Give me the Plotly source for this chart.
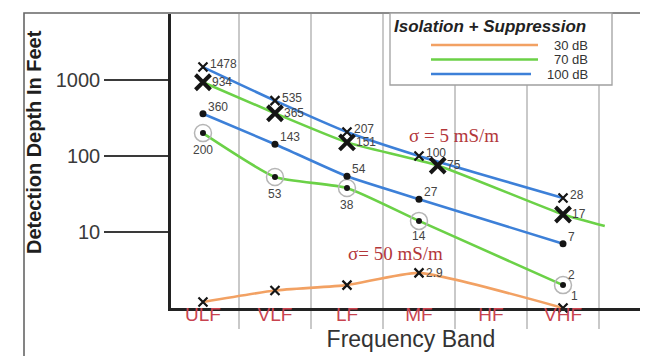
import math
import plotly.graph_objects as go

# ---------------- data ----------------
bands = ["ULF", "VLF", "LF", "MF", "HF", "VHF"]
band_pos = [0, 1, 2, 3, 4, 5]
band_edges = [0.5, 1.5, 2.5, 3.5, 4.5, 5.5]

# 30 dB isolation + suppression
pos_30 = [0, 1, 2, 3, 5]
val_30 = [1.2, 1.7, 2.0, 2.9, 1]
lbl_30 = ["", "", "", "2.9", "1"]

# 100 dB, sigma = 5 mS/m
pos_100_s5 = [0, 1, 2, 3, 5]
val_100_s5 = [1478, 535, 207, 100, 28]

# 70 dB, sigma = 5 mS/m (line continues past VHF)
pos_70_s5 = [0, 1, 2, 3.26, 5]
val_70_s5 = [934, 365, 151, 75, 17]
pos_70_s5_tail = [5.58]
val_70_s5_tail = [12]

# 100 dB, sigma = 50 mS/m
pos_100_s50 = [0, 1, 2, 3, 5]
val_100_s50 = [360, 143, 54, 27, 7]

# 70 dB, sigma = 50 mS/m
pos_70_s50 = [0, 1, 2, 3, 5]
val_70_s50 = [200, 53, 38, 14, 2]

y_ticks = [10, 100, 1000]
legend_names = ["30 dB", "70 dB", "100 dB"]

# ---------------- style ----------------
ORANGE = "#f2a163"
GREEN = "#6bd147"
BLUE = "#3d80d8"
INK = "#151515"
LBL = "#444444"
RED = "#c8434f"
SIG = "#b3373a"
GRID = "#c9c9c9"
SANS = "Liberation Sans, Arial, sans-serif"
SERIF = "Liberation Serif, Times New Roman, serif"

# plot area geometry in pixels (for paper-coordinate decorations)
L, R, T, B = 163, 643, 6, 300
def px(x):
    return (x - L) / (R - L)
def py(y):
    return (B - y) / (B - T)

lbl_font = dict(family=SANS, size=12, color=LBL)
line_kw = dict(width=2.6, shape="spline", smoothing=0.5)

fig = go.Figure()

# ---- lines ----
fig.add_trace(go.Scatter(x=pos_30, y=val_30, mode="lines",
                         line=dict(color=ORANGE, **line_kw), hoverinfo="skip"))
fig.add_trace(go.Scatter(x=pos_100_s5, y=val_100_s5, mode="lines",
                         line=dict(color=BLUE, **line_kw), hoverinfo="skip"))
fig.add_trace(go.Scatter(x=pos_70_s5 + pos_70_s5_tail, y=val_70_s5 + val_70_s5_tail,
                         mode="lines", line=dict(color=GREEN, **line_kw), hoverinfo="skip"))
fig.add_trace(go.Scatter(x=pos_100_s50, y=val_100_s50, mode="lines",
                         line=dict(color=BLUE, **line_kw), hoverinfo="skip"))
fig.add_trace(go.Scatter(x=pos_70_s50, y=val_70_s50, mode="lines",
                         line=dict(color=GREEN, **line_kw), hoverinfo="skip"))

# ---- markers ----
fig.add_trace(go.Scatter(
    x=pos_70_s50, y=val_70_s50, mode="markers",
    marker=dict(symbol="circle-open", size=17, color="#b5b5b5", line=dict(width=1.5, color="#b5b5b5")),
    cliponaxis=False))
fig.add_trace(go.Scatter(
    x=pos_70_s50, y=val_70_s50, mode="markers",
    marker=dict(symbol="circle", size=6, color=INK), cliponaxis=False))
fig.add_trace(go.Scatter(
    x=pos_100_s50, y=val_100_s50, mode="markers",
    marker=dict(symbol="circle", size=7, color=INK), cliponaxis=False))
small_x = dict(symbol="x-thin", size=9, color=INK, line=dict(width=2.2, color=INK))
fig.add_trace(go.Scatter(x=pos_100_s5, y=val_100_s5, mode="markers",
                         marker=small_x, cliponaxis=False))
fig.add_trace(go.Scatter(
    x=pos_70_s5, y=val_70_s5, mode="markers",
    marker=dict(symbol="x-thin", size=15, color=INK, line=dict(width=4, color=INK)),
    cliponaxis=False))
fig.add_trace(go.Scatter(x=pos_30, y=val_30, mode="markers",
                         marker=small_x, cliponaxis=False))

# ---- data labels (annotations anchored at data coordinates) ----
annotations = []
def add_labels(xs, vals, texts, xanchor, yanchor, xshift, yshift):
    for i in range(len(xs)):
        if texts[i] == "":
            continue
        annotations.append(dict(
            xref="x", yref="y", x=xs[i], y=math.log10(vals[i]), text=texts[i],
            showarrow=False, font=lbl_font,
            xanchor=xanchor[i] if isinstance(xanchor, list) else xanchor,
            yanchor=yanchor[i] if isinstance(yanchor, list) else yanchor,
            xshift=xshift[i] if isinstance(xshift, list) else xshift,
            yshift=yshift[i] if isinstance(yshift, list) else yshift))

add_labels(pos_100_s5, val_100_s5, [str(v) for v in val_100_s5], "left", "middle", 5, 3)
add_labels(pos_70_s5, val_70_s5, [str(v) for v in val_70_s5], "left", "middle", 7, 0)
add_labels(pos_100_s50, val_100_s50, [str(v) for v in val_100_s50], "left", "middle", 3, 7)
add_labels(pos_70_s50, val_70_s50, [str(v) for v in val_70_s50],
           ["center"] * 4 + ["left"], ["top"] * 4 + ["middle"],
           [0, 0, 0, 0, 3], [-8, -8, -8, -6, 10])
add_labels(pos_30, val_30, lbl_30, "left", "middle", [5, 5, 5, 5, 6], [4, 4, 4, 0, 12])

# ---------------- layout ----------------
shapes = []
# outer frame
shapes.append(dict(type="rect", xref="paper", yref="paper",
                   x0=px(16), x1=px(643), y0=py(353), y1=py(5),
                   line=dict(color="#666666", width=1.6), fillcolor="rgba(0,0,0,0)", layer="above"))
# legend box
shapes.append(dict(type="rect", xref="paper", yref="paper",
                   x0=px(382), x1=px(604), y0=py(77), y1=py(5),
                   line=dict(color="#a0a0a0", width=1.3), fillcolor="white", layer="above"))
leg_colors = [ORANGE, GREEN, BLUE]
leg_y = [37, 51.5, 66]
leg_x1 = [530, 530, 523]
for name, c, yy, x1 in zip(legend_names, leg_colors, leg_y, leg_x1):
    shapes.append(dict(type="line", xref="paper", yref="paper",
                       x0=px(423), x1=px(x1), y0=py(yy), y1=py(yy),
                       line=dict(color=c, width=2.6), layer="above"))
    annotations.append(dict(xref="paper", yref="paper", x=px(582), y=py(yy),
                            xanchor="right", yanchor="middle", showarrow=False,
                            text=name, font=dict(family=SANS, size=13, color="#333333")))
annotations.append(dict(xref="paper", yref="paper", x=px(384), y=py(18),
                        xanchor="left", yanchor="middle", showarrow=False,
                        text="<b><i>Isolation + Suppression</i></b>",
                        font=dict(family=SANS, size=17, color="#222222")))
# sigma notes
annotations.append(dict(xref="paper", yref="paper", x=px(446), y=py(127),
                        xanchor="center", yanchor="middle", showarrow=False,
                        text="σ = 5 mS/m", font=dict(family=SERIF, size=19, color=SIG)))
annotations.append(dict(xref="paper", yref="paper", x=px(387), y=py(245),
                        xanchor="center", yanchor="middle", showarrow=False,
                        text="σ= 50 mS/m", font=dict(family=SERIF, size=19, color=SIG)))
# y-axis title
annotations.append(dict(xref="paper", yref="paper", x=px(26), y=py(134),
                        xanchor="center", yanchor="middle", showarrow=False, textangle=-90,
                        text="<b>Detection Depth In Feet</b>",
                        font=dict(family=SANS, size=20, color="#1e1e1e")))

fig.update_layout(
    width=648, height=356,
    margin=dict(l=L, r=648 - R, t=T, b=356 - B),
    paper_bgcolor="white", plot_bgcolor="white",
    showlegend=False,
    shapes=shapes, annotations=annotations,
    xaxis=dict(
        range=[-0.444, 6.222], tickmode="array", tickvals=band_pos, ticktext=bands,
        ticks="", showgrid=False, zeroline=False,
        showline=True, linecolor="#222222", linewidth=2.5,
        tickfont=dict(family=SANS, size=19, color=RED),
        ticklabelstandoff=-13,
        minor=dict(tickmode="array", tickvals=band_edges, ticks="outside", ticklen=18,
                   tickcolor=GRID, tickwidth=1.5, showgrid=True, gridcolor=GRID, gridwidth=1.5),
        title=dict(text="Frequency Band", standoff=8,
                   font=dict(family=SANS, size=23, color="#333333")),
        automargin=False, fixedrange=True,
    ),
    yaxis=dict(
        type="log", range=[0, 3.868], tickmode="array", tickvals=y_ticks,
        ticktext=[str(v) for v in y_ticks],
        ticks="outside", ticklen=64, tickwidth=2, tickcolor="#3a3a3a",
        tickfont=dict(family=SANS, size=20, color="#3a3a3a"),
        showgrid=False, zeroline=False,
        showline=True, linecolor="#222222", linewidth=2.5,
        automargin=False, fixedrange=True,
    ),
)

fig.write_html("out.html")
